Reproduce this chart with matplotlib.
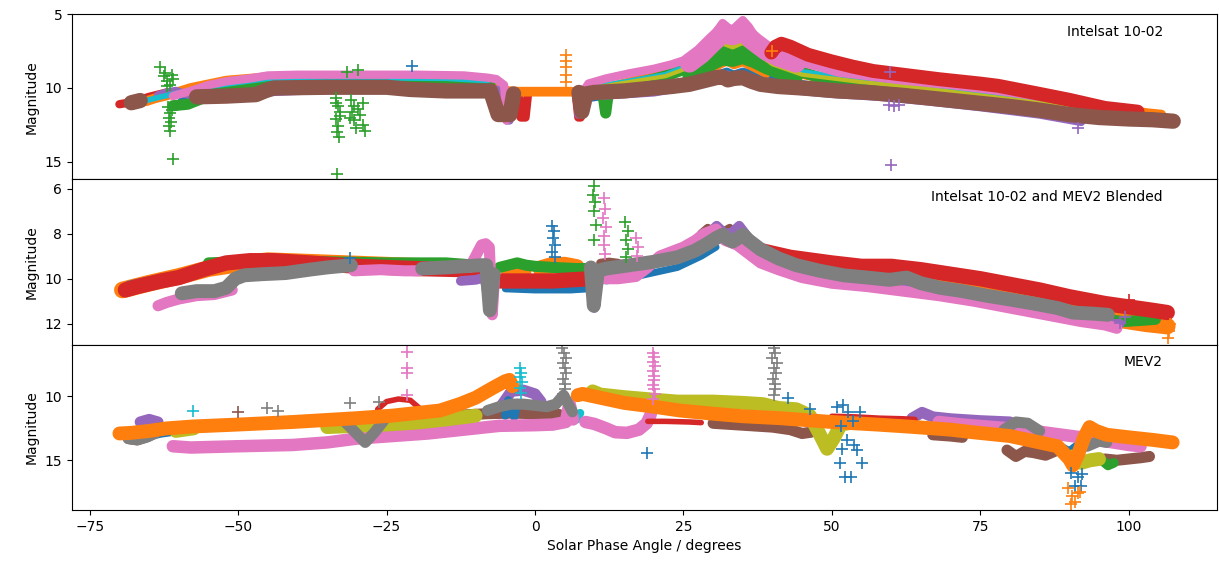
import matplotlib
matplotlib.use("Agg")
import matplotlib.pyplot as plt
import numpy as np

nan = np.nan

# ---------------- panel 1: Intelsat 10-02 ----------------
p1_red = ([-70, -68.5, -67, -65, -62, nan, -2.7, -2.4, -1.6, -1.2, nan, 6.9, 7.3, 7.7, 8.5],
          [11.1, 11.0, 10.85, 10.6, 10.3, nan, 10.5, 12.0, 12.0, 10.5, nan, 10.5, 12.0, 12.0, 10.5])
p1_blue = ([-59.5, -58, -56, -52, -46, -40, -30, -20, -10, -7, nan, 8.5, 14, 20, 26, 30, 32.3, 33.5, 35, 38, 42, 50, 60, 70, 80, 90, 96, 99.5],
           [10.9, 10.8, 10.6, 10.3, 9.9, 9.6, 9.55, 9.55, 9.7, 9.9, nan, 10.7, 10.4, 10.1, 9.6, 9.2, 8.9, 9.1, 8.9, 9.2, 9.6, 10.0, 10.4, 10.8, 11.25, 11.7, 11.95, 12.0])
p1_orange = ([-65.5, -64, -62, -58, -52, -46, -40, -30, -20, -12, -8, -5, -3, 0, 3, 6, 7.2, 8.5, 12, 16, 20, 23, 26, 28, 30, 31.6, 33.3, 35, 36.5, 38, 40, 43, 48, 55, 65, 75, 80, 85, 90, 95, 100, 103, 105.5],
             [10.9, 10.7, 10.5, 10.0, 9.5, 9.3, 9.3, 9.35, 9.35, 9.4, 9.5, 10.2, 10.25, 10.25, 10.25, 10.25, 10.3, 10.4, 10.0, 9.6, 9.2, 8.75, 8.3, 7.8, 7.2, 7.0, 7.3, 7.0, 7.3, 7.8, 8.4, 8.9, 9.3, 9.6, 10.1, 10.5, 10.7, 10.85, 11.05, 11.3, 11.5, 11.7, 11.8])
p1_orange_low = ([29, 31, 32.3, 33.5, 35, 37, 39], [8.9, 8.5, 8.25, 8.5, 8.3, 8.7, 9.1])
p1_green = ([-61, -58.5, -56, -53, -48, -40, -30, -20, -10, -7.5, -6.3, -5.6, -5.2, nan, 8.5, 10, 11.4, 11.9, 12.4, 16, 20, 23, 26, 28, 30, 31.6, 33.3, 35, 37, 39, 41, 44, 48, 51, 56, 62, 70, 80, 88, 94, 98.5],
            [11.2, 11.1, 10.7, 10.1, 9.6, 9.5, 9.45, 9.45, 9.6, 9.9, 11.6, 11.6, 10.3, nan, 10.6, 10.3, 10.3, 11.7, 10.2, 9.8, 9.4, 9.05, 8.6, 8.1, 7.6, 7.2, 7.45, 7.15, 7.6, 8.0, 8.4, 8.8, 9.3, 9.65, 9.9, 10.2, 10.5, 11.0, 11.4, 11.8, 12.0])
p1_green_core = ([26, 28, 30, 31.6, 33.3, 35, 37, 39, 41, 44], [9.2, 8.8, 8.3, 8.0, 8.1, 7.9, 8.2, 8.6, 8.9, 9.2])
p1_purple = ([-63.5, -62, -60.5, -59, -57, -52, -46, -40, -30, -20, -10, -6, -4.8, -4.3, -4, nan, 7.3, 7.6, 8.2, 12, 20, 26, 30, 32.3, 33.5, 35, 38, 42, 50, 58, 66, 75, 85, 92],
             [10.5, 10.3, 10.2, 10.4, 10.5, 10.45, 10.3, 10.2, 10.1, 10.05, 10.2, 10.1, 12.2, 12.2, 10.3, nan, 11.8, 10.4, 10.4, 10.5, 10.3, 9.9, 9.5, 9.1, 9.3, 9.1, 9.6, 10.1, 10.4, 10.6, 10.9, 11.3, 11.8, 12.3])
p1_cyan = ([-66.5, -65, -63, -55, -45, -30, -15, -8, nan, 9, 15, 22, 27, 30, 31.6, 33.3, 35, 37, 40, 45, 55, 65, 75, 85, 95, 101, 104, 107],
           [11.0, 10.8, 10.6, 9.9, 9.35, 9.3, 9.35, 9.5, nan, 10.0, 9.6, 9.1, 8.3, 7.3, 6.8, 7.1, 6.8, 7.3, 8.2, 8.9, 9.5, 9.9, 10.4, 10.9, 11.4, 11.7, 11.9, 12.0])
p1_olive = ([9, 15, 22, 27, 30, 31.6, 33.3, 35, 37, 40, 45, 55, 65, 75, 85, 95, 100],
            [10.05, 9.65, 9.2, 8.45, 7.5, 7.0, 7.25, 6.95, 7.5, 8.4, 9.1, 9.6, 10.0, 10.5, 11.0, 11.4, 11.5])
p1_pink = ([-61, -58, -55, -52, -48, -45, -40, -30, -20, -12, -8, -6.5, -5.2, -4.8, nan, 7.8, 8.2, 9, 12, 16, 20, 23, 26, 28, 29.5, 30.7, 31.6, 32.5, 33.3, 34.2, 35, 36, 37.2, 38.5, 40, 42, 45, 48, 51, 55, 62, 70, 78, 85, 92, 97, 101],
           [10.55, 10.2, 9.8, 9.55, 9.35, 9.15, 9.1, 9.1, 9.1, 9.15, 9.3, 9.4, 9.8, 12.2, nan, 11.8, 10.2, 9.7, 9.35, 9.0, 8.7, 8.4, 8.0, 7.4, 6.8, 6.1, 5.6, 5.9, 6.05, 5.7, 5.4, 5.85, 6.6, 7.1, 7.5, 7.9, 8.3, 8.6, 8.95, 9.15, 9.5, 9.8, 10.2, 10.6, 11.0, 11.3, 11.6])
p1_pink_core = ([26, 28, 30, 31.6, 33.3, 35, 37, 39, 41, 44], [8.3, 7.7, 6.9, 6.3, 6.45, 6.2, 6.9, 7.5, 7.9, 8.3])
p1_red_arc = ([39.8, 40.5, 41.5, 43, 46, 50, 53.5, 57, 62, 68, 75, 78, 85, 90, 96, 101.5],
              [7.6, 7.2, 7.0, 7.2, 7.75, 8.2, 8.55, 8.85, 9.1, 9.4, 9.7, 9.85, 10.4, 10.8, 11.35, 11.6])
p1_brown = ([-68, -66.5, nan, -57, -52, -47, -45.5, -44, -35, -25, -21, -15, -10, -7.5, -6.2, -5.3, -4.2, -3.6, nan, 7.4, 7.9, 8.6, 10, 15, 20, 23, 26, 28.5, 30.5, 31.6, 32.5, 33.5, 35, 36.5, 38, 41, 45, 51, 56, 62, 68, 74, 80, 85, 90, 95, 100, 104, 107.5],
            [11.0, 10.85, nan, 10.6, 10.55, 10.45, 10.2, 10.0, 9.95, 9.95, 10.1, 10.2, 10.2, 10.2, 11.8, 11.8, 11.8, 10.4, nan, 10.3, 11.6, 10.4, 10.3, 10.2, 10.0, 9.9, 9.75, 9.5, 9.3, 9.25, 9.45, 9.35, 9.3, 9.55, 9.75, 9.9, 10.0, 10.2, 10.3, 10.5, 10.75, 11.0, 11.25, 11.5, 11.8, 12.0, 12.1, 12.15, 12.25])

p1_green_plus = ([-63.2, -62.5, -62.0, -61.5, -61.0, -62.3, -61.2, -62.0, -61.8, -61.5, -61.7, -61.3, -61.6, -61.5, -61.2, -60.9,
                  -33.5, -33.2, -32.9, -33.6, -33.2, -33.4, -33.0, -32.8, -33.5, -33.4, -31.6, -29.8,
                  -31.0, -30.5, -29.0, -30.8, -29.5, -30.5, -29.0, -30.2, -28.7, -31.2, -29.8],
                 [8.6, 9.2, 9.5, 9.8, 9.4, 9.0, 9.1, 9.85, 11.3, 11.7, 12.0, 12.3, 12.6, 12.9, 11.5, 14.8,
                  10.7, 11.2, 11.6, 12.1, 12.6, 13.0, 13.3, 11.9, 11.0, 15.8, 8.9, 8.8,
                  10.8, 11.2, 11.0, 11.6, 11.8, 12.2, 12.5, 12.7, 12.9, 12.0, 11.4])
p1_orange_plus = ([5.2, 5.3, 5.3, 5.2, 5.3, 40.0], [7.75, 8.2, 8.6, 9.1, 9.6, 7.5])
p1_purple_plus = ([59.7, 60.5, 61.3, 91.4, 59.8, 59.9], [11.15, 11.2, 11.15, 12.7, 8.9, 15.2])
p1_blue_plus = ([-20.8], [8.5])

# ---------------- panel 2: blended ----------------
p2_orange = ([-69.5, -68, -65, -60, -55, -50, -45, -40, -30, -20, -12, nan, 1, 3, 5, 7, nan, -4.3, -3, -2, nan, 60, 70, 80, 88, 93, 98, 103, 106.5],
             [10.5, 10.4, 10.2, 9.9, 9.55, 9.35, 9.2, 9.25, 9.35, 9.45, 9.5, nan, 9.55, 9.4, 9.4, 9.5, nan, 9.65, 9.6, 9.65, nan, 9.7, 10.1, 10.7, 11.2, 11.5, 11.8, 12.0, 12.1])
p2_blue = ([-68.5, -65, -60, -55, -50, -45, -40, -32, nan, -5, 0, 3, 6, 9, nan, 12, 18, 24, 28, 30.5],
           [10.25, 10.05, 9.8, 9.45, 9.25, 9.15, 9.2, 9.35, nan, 10.45, 10.5, 10.5, 10.5, 10.45, nan, 10.1, 9.85, 9.5, 9.0, 8.6])
p2_green = ([-55, -45, -35, -25, -15, -10, nan, -6, -4.5, -3, -1.5, 0, 3, 7, 9, nan, 96, 99, 102, 104.5],
            [9.3, 9.2, 9.25, 9.3, 9.3, 9.4, nan, 9.5, 9.4, 9.3, 9.4, 9.45, 9.5, 9.55, 9.55, nan, 11.8, 11.9, 11.85, 11.8])
p2_red = ([-69, -67, -63, -60, -56, -52, -48, -44, -38, -30, -20, -12, -8, nan, -6.5, -3, 0, 3, 6, 9.5, nan, 38, 43, 50, 55, 60, 65, 70, 75, 80, 85, 90, 96, 100, 104, 106.5],
          [10.5, 10.35, 10.1, 9.95, 9.6, 9.3, 9.2, 9.2, 9.3, 9.45, 9.55, 9.6, 9.6, nan, 10.1, 10.1, 10.1, 10.1, 10.05, 10.0, nan, 8.75, 9.05, 9.3, 9.45, 9.45, 9.6, 9.8, 10.0, 10.25, 10.5, 10.8, 11.1, 11.25, 11.4, 11.5])
p2_brown = ([11, 12.5, 14, nan, 26.5, 28, 29.1, 30.5, 31.5, 32.8, 34], [9.3, 9.25, 9.3, nan, 8.6, 8.0, 7.75, 7.95, 7.95, 7.75, 8.1])
p2_purple = ([-12.5, -10, -8.5, -7.6, -7.2, nan, 9.6, 10.0, 10.4, nan, 26, 28.5, 30.6, 32, 33.2, 34.4, 36, 38, 42, 48, 55, 62, 70, 78, 86, 92, 96, 98.5],
             [10.1, 10.05, 9.95, 11.4, 10.0, nan, 9.7, 11.3, 9.7, nan, 8.9, 8.2, 7.65, 8.0, 7.95, 7.65, 8.2, 8.7, 9.5, 9.9, 10.2, 10.4, 10.7, 11.0, 11.4, 11.8, 12.0, 12.0])
p2_pink = ([-63.5, -62, -60, -57, -54, -51, nan, -30.5, -26, -22, -19.5, nan, -11, -10, -9, -8.3, -7.7, -7.2, -6.8, nan, 11, 14, 17, 19, 21, 23, 25, 27, 28.5, 30.5, 32, 34, 36, 38, 41, 45, 50, 56, 62, 68, 74, 80, 86, 92, 96, 98],
           [11.2, 11.05, 10.9, 10.75, 10.7, 10.5, nan, 9.65, 9.6, 9.65, 9.65, nan, 9.5, 9.0, 8.5, 8.45, 8.6, 11.6, 9.8, nan, 10.0, 10.0, 9.9, 9.5, 9.0, 8.8, 8.6, 8.3, 8.0, 7.8, 8.3, 8.5, 8.9, 9.3, 9.6, 9.95, 10.2, 10.35, 10.55, 10.75, 11.0, 11.3, 11.6, 11.9, 12.05, 12.2])
p2_gray = ([-59.5, -57, -54, -52, -50.5, -49, -46, -42, -38, -35, -31, nan, -19, -15, -12, -9, -8.2, -7.6, -7.0, nan, 9.4, 9.9, 10.6, 12, 16, 20, 24, 27, 29, 30.5, 31.6, 32.5, 33.3, 34.2, 35, 36, 38, 41, 44, 48, 52, 56, 59.7, 62.6, 65, 68.2, 72, 76, 79.5, 84, 88, 90.6, 94, 96.5],
           [10.65, 10.55, 10.55, 10.4, 10.0, 9.85, 9.8, 9.75, 9.6, 9.5, 9.4, nan, 9.55, 9.5, 9.45, 9.4, 9.4, 11.4, 9.8, nan, 9.5, 11.2, 9.65, 9.55, 9.4, 9.25, 9.05, 8.75, 8.45, 8.2, 8.05, 8.25, 8.35, 8.2, 8.05, 8.3, 8.7, 9.1, 9.4, 9.65, 9.85, 9.95, 10.05, 9.95, 10.2, 10.4, 10.55, 10.75, 10.9, 11.1, 11.3, 11.5, 11.55, 11.6])

p2_blue_plus = ([2.8, 3.2, 3.0, 3.4, 2.9, 3.3, -31.2], [7.65, 7.9, 8.2, 8.5, 8.8, 9.05, 9.1])
p2_green_plus = ([10.0, 9.8, 10.1, 9.9, 10.2, 10.0, 15.2, 15.6, 15.3, 15.7, 15.4],
                 [5.9, 6.3, 6.6, 7.0, 7.6, 8.3, 7.5, 7.9, 8.3, 8.7, 9.05])
p2_pink_plus = ([11.6, 11.8, 11.5, 11.9, 11.7, 11.6, 11.8, 17.0, 17.3, 17.1],
                [6.4, 6.9, 7.3, 7.7, 8.1, 8.5, 8.9, 8.2, 8.6, 9.0])
p2_red_plus = ([100.0], [10.95])
p2_purple_plus = ([98.5, 99.3], [11.95, 11.7])
p2_orange_plus = ([106.6, 106.8, 107.0], [12.65, 12.3, 12.0])

# ---------------- panel 3: MEV2 ----------------
p3_red = ([-26.5, -25, -23, -21, -19.5, nan, 19, 22, 26, 28, nan, 50, 54, 58, 62, 64],
          [11.0, 10.4, 10.2, 10.3, 10.9, nan, 11.95, 11.95, 12.0, 12.05, nan, 11.55, 11.6, 11.7, 11.75, 11.8])
p3_brown = ([-68.5, -67, -65, nan, -16, -12, -8, -4, 0, 4, nan, 30, 35, 40, 43, 45, 46.5, nan, 67, 70, 72, nan, 79.5, 81, 82.5, 84, 86, 87.5, nan, 96, 98, 100, 102, 103.5],
            [13.3, 13.4, 13.1, nan, 11.5, 11.45, 11.35, 11.3, 11.35, 11.4, nan, 12.1, 12.25, 12.4, 12.6, 12.9, 12.8, nan, 13.0, 13.1, 13.2, nan, 14.2, 14.7, 14.3, 14.4, 14.6, 14.3, nan, 14.9, 15.0, 14.9, 14.8, 14.7])
p3_purple = ([-66.5, -65, -63.5, nan, -5.5, -4, -2, 0, 1, nan, 63.5, 65.2, 67, 70, 75, 80],
             [12.0, 11.8, 12.0, nan, 10.6, 9.6, 9.5, 9.8, 10.4, nan, 11.7, 11.25, 11.6, 11.75, 11.9, 12.0])
p3_green = ([-63, -61.5, -60.5, nan, 95.5, 96.5, 97.5], [12.4, 12.7, 12.5, nan, 15.0, 15.4, 15.2])
p3_cyan = ([-66.5, -65, -64, nan, -58.5, -57.5, nan, 6.2, 7.0, 7.6], [12.6, 12.5, 12.9, nan, 12.3, 12.7, nan, 11.4, 11.8, 11.3])
p3_blue = ([-65, -63, -61.5, nan, -5, -4.5, -3.5, -3, nan, 85, 88, 90, 92, 94],
           [13.1, 12.9, 12.8, nan, 11.5, 10.3, 11.6, 10.5, nan, 13.4, 13.8, 14.3, 13.6, 13.2])
p3_pink = ([-61, -58, -50, -40.8, -35, -30, -24, -18, -12, -6, 0, 3, 5.2, 5.8, 6.4, nan, 8.5, 10, 12, 13.5, 15.5, 17.5, 18.8, 19.5, nan, 68, 72, 76, 80, 84, 88, 92, 96, 100, 102],
           [13.9, 14.0, 13.9, 13.8, 13.6, 13.3, 13.1, 12.9, 12.6, 12.3, 12.25, 12.2, 12.0, 10.5, 11.8, nan, 12.0, 12.15, 12.5, 12.8, 12.85, 12.6, 12.1, 11.4, nan, 12.0, 12.2, 12.35, 12.5, 12.7, 12.95, 13.2, 13.5, 13.8, 13.9])
p3_olive = ([-60.5, -59, -57.5, nan, -35, -30, -25, -20, -15, -10, nan, 9.7, 11, 15, 20, 24, 30, 35, 38.4, 41, 44, 46.3, 48, 49.2, 50.3, 51.5, 54, nan, 90.5, 92, 93.5, 95],
            [12.7, 12.6, 12.5, nan, 12.4, 12.3, 12.2, 12.05, 11.8, 11.5, nan, 9.6, 9.85, 10.05, 10.25, 10.4, 10.4, 10.5, 10.6, 10.9, 11.0, 11.5, 13.0, 14.1, 13.3, 12.2, 12.0, nan, 14.7, 15.2, 15.0, 14.9])
p3_gray = ([-68.5, -67, -65.5, -64, nan, -32, -30.3, -28.6, -27, -25.5, nan, -8, -6, -4, -2, 0, 2, 3.5, 4.8, 5.5, 6.3, nan, 79, 81, 83, 85, nan, 93, 95, 96.3],
           [13.3, 13.4, 13.2, 12.9, nan, 12.0, 12.8, 13.6, 12.8, 11.9, nan, 11.1, 10.8, 10.6, 10.6, 10.7, 10.8, 10.6, 9.9, 10.5, 11.2, nan, 12.6, 12.0, 12.1, 12.7, nan, 13.9, 13.5, 13.6])
p3_orange = ([-70, -68, -65, -62, -57.6, -50, -40.8, -30, -24, -16, -12.7, -10, -7, -5, -4.3, -3.8, nan, 7.2, 8.0, 10, 15, 20, 24.4, 30, 35, 41.2, 50, 57.6, 62.6, 70, 73.7, 80, 85, 88, 90, 90.6, 91.5, 92.5, 93.4, 94.5, 96.3, 100, 104, 107.4],
             [12.9, 12.85, 12.7, 12.5, 12.35, 12.2, 12.0, 11.7, 11.5, 11.1, 10.6, 10.1, 9.3, 8.8, 8.7, 9.2, nan, 9.9, 9.8, 10.0, 10.5, 10.8, 11.1, 11.35, 11.55, 11.7, 12.0, 12.2, 12.35, 12.6, 12.8, 13.1, 13.6, 13.9, 14.9, 15.4, 14.5, 13.2, 12.4, 12.7, 13.0, 13.2, 13.4, 13.6])

p3_gray_plus = ([4.6, 4.9, 5.2, 4.7, 5.0, 5.3, 4.8, 5.1, 5.0, 4.8, 40.2, 40.5, 40.0, 40.7, 40.3, 40.6, 40.1, 40.4, 40.5, 40.2, -45.2, -43.3, -31.2, -26.2],
                [6.2, 6.6, 7.0, 7.4, 7.8, 8.2, 8.6, 9.0, 9.4, 9.8, 6.2, 6.6, 7.0, 7.4, 7.8, 8.2, 8.6, 9.0, 9.4, 9.9, 10.9, 11.1, 10.5, 10.4])
p3_pink_plus = ([19.8, 20.1, 19.9, 20.2, 19.8, 20.0, 20.1, 19.9, 20.0, 20.2, 19.9, -21.6, -21.6, -21.6, -21.6],
                [6.6, 6.9, 7.3, 7.6, 8.0, 8.4, 8.7, 9.1, 9.4, 9.8, 10.2, 6.55, 7.75, 8.2, 9.9])
p3_cyan_plus = ([-57.6, -2.6, -2.3, -2.5, -2.2, -2.6, -2.4], [11.1, 7.8, 8.2, 8.5, 8.9, 9.3, 9.7])
p3_brown_plus = ([-50.1], [11.25])
p3_blue_plus = ([18.8, 42.6, 46.3, 50.8, 51.8, 52.8, 54.7, 53.5, 51.5, 52.5, 53.8, 51.7, 54.2, 51.3, 55.0, 52.2, 53.3, 90.3, 91.5, 92.2, 91.0, 92.0],
                [14.45, 10.15, 10.95, 10.8, 10.7, 11.2, 11.25, 11.9, 12.3, 13.4, 13.8, 14.1, 14.2, 15.2, 15.2, 16.3, 16.3, 16.0, 16.3, 16.1, 17.0, 17.0])
p3_orange_plus = ([89.8, 90.5, 91.5, 90.2, 91.0, 91.8], [17.2, 17.8, 17.6, 18.4, 18.3, 17.5])

titles = ["Intelsat 10-02", "Intelsat 10-02 and MEV2 Blended", "MEV2"]


def band(ax, series, color, lw):
    ax.plot(series[0], series[1], "-", color=color, lw=lw,
            solid_capstyle="round", solid_joinstyle="round")


def crosses(ax, series, color):
    ax.plot(series[0], series[1], "+", color=color, ms=8, mew=1.2, ls="none")


fig, axes = plt.subplots(3, 1, sharex=True, figsize=(12.19, 5.68), dpi=100)
fig.subplots_adjust(left=0.059, right=0.998, top=0.975, bottom=0.102, hspace=0)
ax1, ax2, ax3 = axes

# panel 1
band(ax1, p1_red, "tab:red", 6)
band(ax1, p1_blue, "tab:blue", 6)
band(ax1, p1_orange, "tab:orange", 7)
band(ax1, p1_orange_low, "tab:orange", 5)
band(ax1, p1_green, "tab:green", 8)
band(ax1, p1_green_core, "tab:green", 10)
band(ax1, p1_purple, "tab:purple", 6)
band(ax1, p1_cyan, "tab:cyan", 4)
band(ax1, p1_olive, "tab:olive", 3)
band(ax1, p1_pink, "tab:pink", 6)
band(ax1, p1_pink_core, "tab:pink", 14)
band(ax1, p1_red_arc, "tab:red", 10)
band(ax1, p1_brown, "tab:brown", 11)
crosses(ax1, p1_green_plus, "tab:green")
crosses(ax1, p1_orange_plus, "tab:orange")
crosses(ax1, p1_purple_plus, "tab:purple")
crosses(ax1, p1_blue_plus, "tab:blue")

# panel 2
band(ax2, p2_orange, "tab:orange", 12)
band(ax2, p2_blue, "tab:blue", 5)
band(ax2, p2_green, "tab:green", 8)
band(ax2, p2_red, "tab:red", 11)
band(ax2, p2_brown, "tab:brown", 6)
band(ax2, p2_purple, "tab:purple", 7)
band(ax2, p2_pink, "tab:pink", 8)
band(ax2, p2_gray, "tab:gray", 10)
crosses(ax2, p2_blue_plus, "tab:blue")
crosses(ax2, p2_green_plus, "tab:green")
crosses(ax2, p2_pink_plus, "tab:pink")
crosses(ax2, p2_red_plus, "tab:red")
crosses(ax2, p2_purple_plus, "tab:purple")
crosses(ax2, p2_orange_plus, "tab:orange")

# panel 3
band(ax3, p3_brown, "tab:brown", 8)
band(ax3, p3_purple, "tab:purple", 8)
band(ax3, p3_green, "tab:green", 7)
band(ax3, p3_cyan, "tab:cyan", 6)
band(ax3, p3_blue, "tab:blue", 6)
band(ax3, p3_pink, "tab:pink", 9)
band(ax3, p3_olive, "tab:olive", 10)
band(ax3, p3_gray, "tab:gray", 8)
band(ax3, p3_red, "tab:red", 4)
band(ax3, p3_orange, "tab:orange", 10)
crosses(ax3, p3_gray_plus, "tab:gray")
crosses(ax3, p3_pink_plus, "tab:pink")
crosses(ax3, p3_cyan_plus, "tab:cyan")
crosses(ax3, p3_brown_plus, "tab:brown")
crosses(ax3, p3_blue_plus, "tab:blue")
crosses(ax3, p3_orange_plus, "tab:orange")

ax1.set_ylim(16.2, 5.0)
ax1.set_yticks([5, 10, 15])
ax2.set_ylim(12.93, 5.6)
ax2.set_yticks([6, 8, 10, 12])
ax3.set_ylim(18.9, 5.95)
ax3.set_yticks([10, 15])
ax3.set_xlim(-78, 114.8)

for ax, t in zip(axes, titles):
    ax.set_ylabel("Magnitude")
    ax.text(0.953, 0.895, t, transform=ax.transAxes, ha="right", va="center", fontsize=10)

ax3.set_xlabel("Solar Phase Angle / degrees")

fig.savefig("out.png", dpi=100)
